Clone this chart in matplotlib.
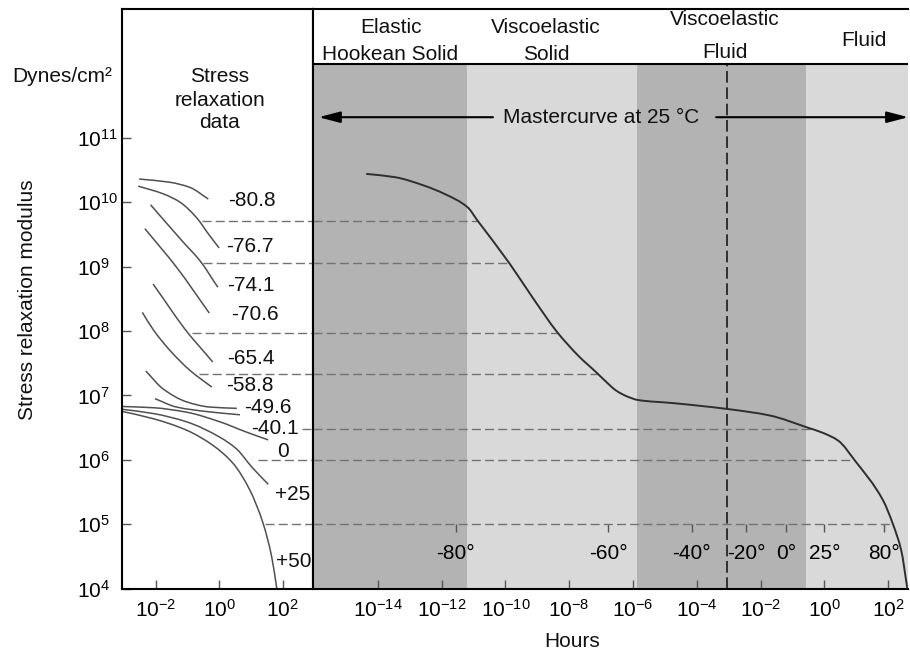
import numpy as np
import matplotlib
matplotlib.use("Agg")
import matplotlib.pyplot as plt
from matplotlib.ticker import NullLocator
from matplotlib.transforms import blended_transform_factory
from matplotlib.path import Path
from matplotlib.patches import PathPatch

plt.rcParams["font.family"] = ["Liberation Sans", "DejaVu Sans"]
plt.rcParams["mathtext.fontset"] = "custom"
plt.rcParams["mathtext.rm"] = "Liberation Sans"
plt.rcParams["mathtext.it"] = "Liberation Sans:italic"
plt.rcParams["mathtext.bf"] = "Liberation Sans:bold"

# ---------------------------------------------------------------- data
# stress relaxation curves at each test temperature (log10 hours, log10 dyn/cm^2)
temp_labels = ["-80.8", "-76.7", "-74.1", "-70.6", "-65.4", "-58.8",
               "-49.6", "-40.1", "0", "+25", "+50"]
curve_log_t = [
    [-2.52, -1.55, -0.92, -0.34],
    [-2.55, -1.76, -1.23, -0.71, -0.34, 0.00],
    [-2.16, -1.13, -0.60, -0.04],
    [-2.34, -1.34, -0.31],
    [-2.08, -0.95, -0.60, -0.20],
    [-2.42, -2.06, -1.55, -0.92, -0.23],
    [-2.31, -1.76, -1.02, -0.29, 0.56],
    [-2.02, -1.34, -0.39, 0.66],
    [-3.13, -2.08, -1.02, 0.03, 0.87, 1.55],
    [-3.13, -2.08, -1.02, 0.03, 0.55, 1.03, 1.55],
    [-3.13, -2.08, -1.02, -0.18, 0.45, 0.97, 1.39, 1.66, 1.82],
]
curve_log_g = [
    [10.36, 10.31, 10.23, 10.05],
    [10.25, 10.13, 10.00, 9.76, 9.51, 9.29],
    [9.96, 9.38, 9.09, 8.68],
    [9.59, 8.99, 8.28],
    [8.73, 7.95, 7.75, 7.52],
    [8.29, 8.01, 7.70, 7.39, 7.13],
    [7.38, 7.10, 6.90, 6.82, 6.80],
    [6.95, 6.82, 6.75, 6.70],
    [6.83, 6.81, 6.74, 6.59, 6.43, 6.31],
    [6.79, 6.72, 6.59, 6.35, 6.17, 5.89, 5.62],
    [6.76, 6.64, 6.46, 6.22, 5.94, 5.53, 5.01, 4.49, 4.00],
]
# where each temperature label sits (log10 hours, log10 modulus)
label_log_t = [1.03, 0.97, 0.99, 1.13, 1.01, 0.97, 1.55, 1.76, 2.02, 2.32, 2.36]
label_log_g = [10.03, 9.31, 8.70, 8.25, 7.58, 7.15, 6.82, 6.48, 6.13, 5.47, 4.43]

# mastercurve at 25 C (log10 hours, log10 modulus)
master_log_t = [-14.36, -13.47, -12.50, -11.91, -11.18, -10.88, -9.87, -9.16,
                -8.37, -7.72, -7.11, -6.88, -6.51, -6.16, -5.85, -4.71, -3.04,
                -1.72, -0.52, -0.05, 0.43, 0.97, 1.84, 2.15, 2.41, 2.60]
master_log_g = [10.44, 10.39, 10.25, 10.13, 9.92, 9.72, 9.05, 8.53,
                7.98, 7.62, 7.34, 7.23, 7.07, 6.98, 6.93, 6.88, 6.79,
                6.69, 6.50, 6.42, 6.30, 5.98, 5.37, 5.00, 4.59, 4.00]

# horizontal shift guides: modulus level and where each starts on the data panel
shift_log_g = [9.71, 9.05, 7.97, 7.34, 6.48, 6.00, 5.00]
shift_start_log_t = [-0.54, -0.50, -0.86, -0.64, 2.61, 1.24, 1.45]

# temperature scale along the mastercurve
temp_scale_log_t = [-11.55, -6.78, -4.16, -2.46, -1.21, 0.00, 1.86]
temp_scale_labels = ["-80°", "-60°", "-40°", "-20°", "0°", "25°", "80°"]

# behaviour regions (log10 hours boundaries)
region_edges = [-16.02, -11.20, -5.86, -0.58, 2.63]
glass_log_t = -3.04

# axis ranges and ticks
left_xlim = (-3.07, 2.97)
right_xlim = (-16.02, 2.63)
ylim_log = (4, 13)
header_log_g = 12.15
left_xticks = [-2, 0, 2]
right_xticks = [-14, -12, -10, -8, -6, -4, -2, 0, 2]
yticks = [4, 5, 6, 7, 8, 9, 10, 11]

# ---------------------------------------------------------------- style
FS = 15
W, H = 910, 651
DARK = "#b3b3b3"
LIGHT = "#d9d9d9"
GUIDE = "#737373"
TICK = "#555555"
SPINE_LW = 1.5


def dec(p):
    return r"$\mathregular{10^{%d}}$" % p


def fpx(x, y):
    return x / W, 1 - y / H


def smooth_path(log_x, log_y):
    """Monotone cubic Bezier path through the points, built in log-log space."""
    x = np.asarray(log_x, float)
    y = np.asarray(log_y, float)
    h = np.diff(x)
    d = np.diff(y) / h
    n = len(x)
    m = np.empty(n)
    m[0], m[-1] = d[0], d[-1]
    for i in range(1, n - 1):
        if d[i - 1] * d[i] <= 0:
            m[i] = 0.0
        else:
            w1 = 2 * h[i] + h[i - 1]
            w2 = h[i] + 2 * h[i - 1]
            m[i] = (w1 + w2) / (w1 / d[i - 1] + w2 / d[i])
    verts = [(x[0], y[0])]
    codes = [Path.MOVETO]
    for i in range(n - 1):
        verts += [(x[i] + h[i] / 3, y[i] + m[i] * h[i] / 3),
                  (x[i + 1] - h[i] / 3, y[i + 1] - m[i + 1] * h[i] / 3),
                  (x[i + 1], y[i + 1])]
        codes += [Path.CURVE4] * 3
    return Path(10 ** np.array(verts), codes)


fig = plt.figure(figsize=(W / 100, H / 100), dpi=100)
ax_bottom, ax_top = 588.7, 9.0
axl = fig.add_axes([121.7 / W, 1 - ax_bottom / H, (313.3 - 121.7) / W,
                    (ax_bottom - ax_top) / H])
axr = fig.add_axes([313.3 / W, 1 - ax_bottom / H, (908.3 - 313.3) / W,
                    (ax_bottom - ax_top) / H])

for ax, xl in ((axl, left_xlim), (axr, right_xlim)):
    ax.set_xscale("log")
    ax.set_yscale("log")
    ax.set_xlim(10 ** xl[0], 10 ** xl[1])
    ax.set_ylim(10 ** ylim_log[0], 10 ** ylim_log[1])
    ax.xaxis.set_minor_locator(NullLocator())
    ax.yaxis.set_minor_locator(NullLocator())
    for s in ax.spines.values():
        s.set_linewidth(SPINE_LW)
        s.set_color("black")

# ---------------------------------------------------------------- left panel
axl.set_xticks([10.0 ** p for p in left_xticks], labels=[dec(p) for p in left_xticks])
axl.set_yticks([10.0 ** p for p in yticks], labels=[dec(p) for p in yticks])
axl.tick_params(axis="both", which="major", direction="in", length=6.5,
                width=1, color=TICK, labelsize=FS)
axl.tick_params(axis="x", pad=7)
axl.tick_params(axis="y", pad=32.4)
for lbl in axl.get_yticklabels():
    lbl.set_horizontalalignment("left")

for xs, ys in zip(curve_log_t, curve_log_g):
    axl.add_patch(PathPatch(smooth_path(xs, ys), fill=False,
                            edgecolor="#505050", lw=1.1))
for txt, lx, ly in zip(temp_labels, label_log_t, label_log_g):
    axl.text(10 ** lx, 10 ** ly, txt, ha="center", va="center", fontsize=FS,
             color="#111111")

shift_g = 10 ** np.array(shift_log_g)
axl.hlines(shift_g, 10 ** np.array(shift_start_log_t), 10 ** left_xlim[1],
           colors=GUIDE, linestyles=(0, (6.5, 3)), lw=1.0)

# ---------------------------------------------------------------- right panel
axr.spines["right"].set_visible(False)
axr.set_yticks([])
axr.set_xticks([10.0 ** p for p in right_xticks], labels=[dec(p) for p in right_xticks])
axr.tick_params(axis="x", which="major", direction="in", length=6.5, width=1,
                color=TICK, labelsize=FS, pad=7)

hdr_frac = (header_log_g - ylim_log[0]) / (ylim_log[1] - ylim_log[0])
for i in range(len(region_edges) - 1):
    axr.axvspan(10 ** region_edges[i], 10 ** region_edges[i + 1], ymin=0,
                ymax=hdr_frac, color=DARK if i % 2 == 0 else LIGHT, lw=0, zorder=0)
axr.axhline(10 ** header_log_g, color="black", lw=SPINE_LW, zorder=3)
axr.vlines(10 ** glass_log_t, 10 ** ylim_log[0], 10 ** header_log_g,
           colors="#1a1a1a", linestyles=(0, (7, 2.8)), lw=1.2, zorder=2)

# shift guides run from the left edge to the mastercurve
mt = np.array(master_log_t)
mg = np.array(master_log_g)
shift_end = np.interp(shift_log_g, mg[::-1], mt[::-1])
axr.hlines(shift_g, 10 ** right_xlim[0], 10 ** shift_end, colors=GUIDE,
           linestyles=(0, (6.5, 3)), lw=1.0, zorder=2)

axr.add_patch(PathPatch(smooth_path(master_log_t, master_log_g), fill=False,
                        edgecolor="#2e2e2e", lw=1.4, zorder=4))

# temperature scale hanging from the 1e5 guide
loc = (shift_log_g[-1] - ylim_log[0]) / (ylim_log[1] - ylim_log[0])
sec = axr.secondary_xaxis(loc)
sec.set_xticks(10 ** np.array(temp_scale_log_t), labels=temp_scale_labels)
sec.xaxis.set_minor_locator(NullLocator())
sec.tick_params(axis="x", direction="out", length=6, width=1, color=TICK,
                labelsize=FS, pad=8.5)
for s in sec.spines.values():
    s.set_visible(False)

# mastercurve arrow
trans = blended_transform_factory(axr.transAxes, axr.transData)
arrow_y = 10 ** 11.32
astyle = "-|>,head_length=0.65,head_width=0.17"
for x_from, x_to in ((0.302, 0.009), (0.677, 1.0)):
    axr.annotate("", xy=(x_to, arrow_y), xytext=(x_from, arrow_y),
                 xycoords=trans, textcoords=trans, annotation_clip=False,
                 arrowprops=dict(arrowstyle=astyle, mutation_scale=20,
                                 lw=1.5, color="black", shrinkA=0, shrinkB=0))

# ---------------------------------------------------------------- text
def put(x, y, s, **kw):
    fx, fy = fpx(x, y)
    fig.text(fx, fy, s, fontsize=FS, color="#111111", **kw)


put(600.8, 123.3, "Mastercurve at 25 °C", ha="center", va="baseline")
put(390.5, 33.3, "Elastic", ha="center", va="baseline")
put(390.5, 59.5, "Hookean Solid", ha="center", va="baseline")
put(546.0, 33.3, "Viscoelastic", ha="center", va="baseline")
put(546.0, 59.5, "Solid", ha="center", va="baseline")
put(724.8, 25.0, "Viscoelastic", ha="center", va="baseline")
put(724.8, 58.0, "Fluid", ha="center", va="baseline")
put(863.7, 46.5, "Fluid", ha="center", va="baseline")
put(220.0, 81.7, "Stress", ha="center", va="baseline")
put(220.0, 106.0, "relaxation", ha="center", va="baseline")
put(220.0, 128.3, "data", ha="center", va="baseline")
put(62.5, 81.7, "Dynes/cm²", ha="center", va="baseline")
put(571.7, 646.7, "Hours", ha="center", va="baseline")
put(27.5, 300.0, "Stress relaxation modulus", ha="center", va="center",
    rotation=90)

fig.savefig("out.png", dpi=100)
